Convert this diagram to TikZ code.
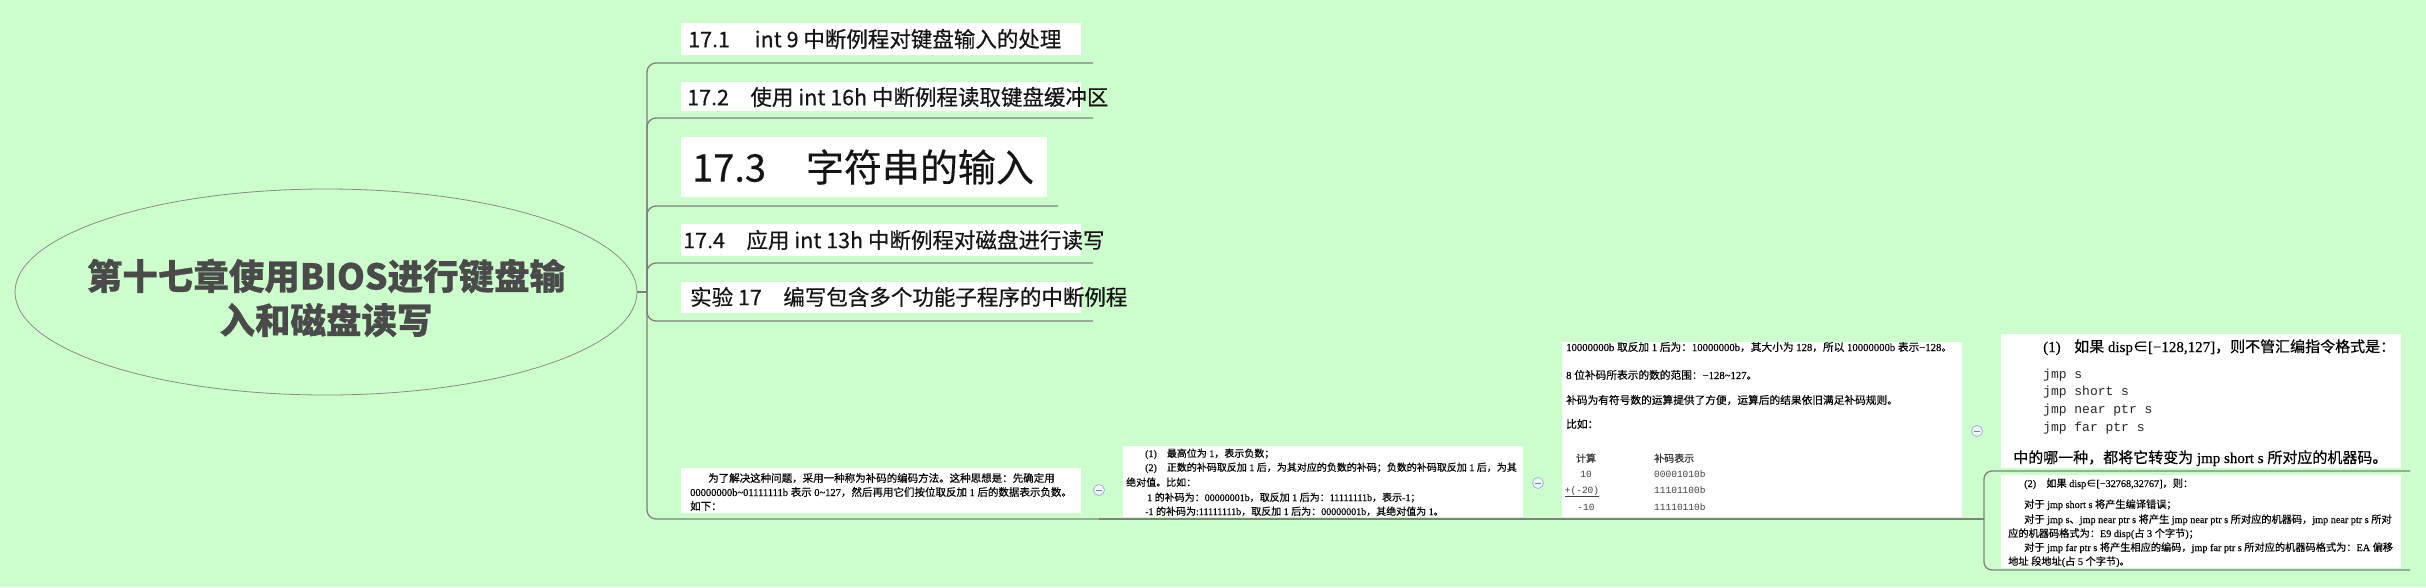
\documentclass[tikz,border=0pt]{standalone}
\usetikzlibrary{shapes.geometric}
\usepackage{fontspec}
\setmainfont{Liberation Serif}
\setmonofont{Liberation Mono}
\newfontfamily\cjkf{Noto Sans CJK SC}
\newfontfamily\cjkm{Noto Sans CJK SC}[FakeBold=0.35]
\newfontfamily\cjkt{Noto Sans CJK SC}[BoldFeatures={FakeBold=0.7}]
\newfontfamily\cjks{Noto Sans CJK SC}[FakeBold=0.4]
\newfontfamily\serifb{Liberation Serif}[FakeBold=0.35]
\newXeTeXintercharclass\CJKcls
\newcount\cjkcnt
\newcommand\setcjkrange[2]{\cjkcnt=#1\relax\loop\XeTeXcharclass\cjkcnt=\CJKcls\relax\ifnum\cjkcnt<#2\relax\advance\cjkcnt by 1\relax\repeat}
\setcjkrange{"4E00}{"9FFF}
\setcjkrange{"3000}{"303F}
\setcjkrange{"FF00}{"FFEF}
\XeTeXcharclass"2208=\CJKcls\relax
\XeTeXinterchartoks 0 \CJKcls = {\cjks}
\XeTeXinterchartoks 4095 \CJKcls = {\cjks}
\XeTeXinterchartoks \CJKcls 0 = {\serifb}
\XeTeXinterchartoks \CJKcls 4095 = {\serifb}
\newcommand\serifon{\XeTeXinterchartokenstate=1\relax\serifb}
\newcommand\tld{\textasciitilde}
\definecolor{bgc}{HTML}{CCFFCC}
\definecolor{linec}{HTML}{7F7F7F}
\definecolor{ellc}{HTML}{8A8A8A}
\definecolor{titlec}{HTML}{4A4A4A}
\definecolor{btnc}{HTML}{9DB3DD}
\definecolor{btnf}{HTML}{F2F6FC}
\definecolor{btnm}{HTML}{6A86BF}
\tikzset{
  conn/.style={draw=linec, line width=1.3pt, rounded corners=9pt},
  wbox/.style={fill=white, draw=none, inner sep=0pt, anchor=north west, minimum width=400pt},
  ttext/.style={anchor=west, inner sep=0pt, text=black!92, font=\cjkm\fontsize{21.5}{24}\selectfont},
  sline/.style={anchor=base west, inner sep=0pt, text=black},
  fsA/.style={font={\serifon\fontsize{10.5}{13}\selectfont}},
  fsB/.style={font={\serifon\fontsize{10}{12}\selectfont}},
  fsC/.style={font={\serifon\fontsize{10.7}{13}\selectfont}},
  fsD/.style={font={\serifon\fontsize{15}{18}\selectfont}},
  fsE/.style={font={\serifon\fontsize{10.2}{12}\selectfont}},
  monoA/.style={anchor=base west, inner sep=0pt, text=black!85, font={\ttfamily\fontsize{13}{15}\selectfont}},
  monoB/.style={anchor=base, inner sep=0pt, text=black!75, font={\ttfamily\fontsize{9.5}{11}\selectfont}},
  btn/.style={circle, draw=btnc, fill=btnf, line width=0.8pt, minimum size=11pt, inner sep=0pt,
    path picture={\draw[btnm, line width=1pt] ([xshift=-2.8pt]path picture bounding box.center) -- ([xshift=2.8pt]path picture bounding box.center);}},
}
\begin{document}
\begin{tikzpicture}[x=1pt,y=-1pt]
\useasboundingbox (0,0) rectangle (2426,587);
\fill[bgc] (0,0) rectangle (2426,587);

% root
\node[ellipse, draw=ellc, line width=0.8pt, minimum width=622pt, minimum height=206pt, inner sep=0pt] (root) at (326,292) {};
\node[font=\cjkt\bfseries\fontsize{35.5}{44}\selectfont, text=titlec, align=center, inner sep=0pt] (title) at (326,298) {第十七章使用BIOS进行键盘输\\入和磁盘读写};

% coordinates
\coordinate (trunk) at (647,292);
\coordinate (u1) at (1093,63);
\coordinate (u2) at (1093,118);
\coordinate (u3) at (1058,206);
\coordinate (u4) at (1093,263);
\coordinate (u5) at (1093,321);
\coordinate (j1) at (1099,519);
\coordinate (j2) at (1538,519);
\coordinate (fork) at (1984,519);
\coordinate (u9) at (2410,471);
\coordinate (u10) at (2410,570);

% connectors
\draw[linec, line width=1.3pt] (root.east) -- (trunk);
\draw[conn] (trunk) |- (u1);
\draw[conn] (trunk) |- (u2);
\draw[conn] (trunk) |- (u3);
\draw[conn] (trunk) |- (u4);
\draw[conn] (trunk) |- (u5);
\draw[conn] (trunk) |- (j1);
\draw[conn] (j1) -- (j2);
\draw[conn] (j2) -- (fork);
\draw[conn, rounded corners=8pt] (fork) |- (u9);
\draw[conn, rounded corners=8pt] (fork) |- (u10);

% topic boxes
\node[wbox, minimum height=32pt] (t1) at (681,23) {};
\node[ttext] (t1x) at (688,39) {17.1\hspace{1.15em}int 9 中断例程对键盘输入的处理};
\node[wbox, minimum height=29pt] (t2) at (681,82) {};
\node[ttext] (t2x) at (687,97) {17.2\hspace{1em}使用 int 16h 中断例程读取键盘缓冲区};
\node[wbox, minimum width=366pt, minimum height=60pt] (t3) at (681,137) {};
\node[ttext, font=\cjkm\fontsize{38}{42}\selectfont] (t3x) at (692,167) {17.3\hspace{1.05em}字符串的输入};
\node[wbox, minimum height=32pt] (t4) at (681,224) {};
\node[ttext] (t4x) at (683,240) {17.4\hspace{1em}应用 int 13h 中断例程对磁盘进行读写};
\node[wbox, minimum height=31pt] (t5) at (681,282) {};
\node[ttext] (t5x) at (690,297) {实验 17\hspace{1em}编写包含多个功能子程序的中断例程};

% box 6
\node[wbox, minimum height=45pt] (b6) at (681,468) {};
\node[sline, fsA] (l61) at (708,482) {为了解决这种问题，采用一种称为补码的编码方法。这种思想是：先确定用};
\node[sline, fsA] (l62) at (690,496) {00000000b\tld 01111111b 表示 0\tld 127，然后再用它们按位取反加 1 后的数据表示负数。};
\node[sline, fsA] (l63) at (690,510) {如下：};

% box 7
\node[wbox, minimum height=71pt] (b7) at (1123,446) {};
\node[sline, fsB] (l71) at (1145,457) {(1)\hspace{1em}最高位为 1，表示负数；};
\node[sline, fsB] (l72) at (1145,471) {(2)\hspace{1em}正数的补码取反加 1 后，为其对应的负数的补码；负数的补码取反加 1 后，为其};
\node[sline, fsB] (l73) at (1126,486) {绝对值。比如：};
\node[sline, fsB] (l74) at (1147,501) {1 的补码为：00000001b，取反加 1 后为：11111111b，表示-1；};
\node[sline, fsB] (l75) at (1145,515) {-1 的补码为:11111111b，取反加 1 后为：00000001b，其绝对值为 1。};

% box 8
\node[wbox, minimum height=175pt] (b8) at (1562,342) {};
\node[sline, fsC] (l81) at (1566,351) {10000000b 取反加 1 后为：10000000b，其大小为 128，所以 10000000b 表示−128。};
\node[sline, fsC] (l82) at (1566,379) {8 位补码所表示的数的范围：−128\tld 127。};
\node[sline, fsC] (l83) at (1566,404) {补码为有符号数的运算提供了方便，运算后的结果依旧满足补码规则。};
\node[sline, fsC] (l84) at (1566,428) {比如：};
\node[sline, fsB, anchor=base, text=black!80] (th1) at (1586,462) {计算};
\node[sline, fsB, text=black!80] (th2) at (1654,462) {补码表示};
\node[monoB] (r11) at (1586,477) {10};
\node[monoB, anchor=base west] (r12) at (1654,477) {00001010b};
\node[monoB] (r21) at (1582,493) {\underline{+(-20)}};
\node[monoB, anchor=base west] (r22) at (1654,493) {11101100b};
\node[monoB] (r31) at (1586,510) {-10};
\node[monoB, anchor=base west] (r32) at (1654,510) {11110110b};

% box 9
\node[wbox, minimum height=134pt] (b9) at (2001,334) {};
\node[sline, fsD] (l91) at (2043,352) {(1)\hspace{0.9em}如果 disp∈[−128,127]，则不管汇编指令格式是：};
\node[monoA] (m91) at (2043,378.5) {jmp s};
\node[monoA] (m92) at (2043,395.5) {jmp short s};
\node[monoA] (m93) at (2043,413.5) {jmp near ptr s};
\node[monoA] (m94) at (2043,431.5) {jmp far ptr s};
\node[sline, fsD] (l92) at (2013,463) {中的哪一种，都将它转变为 jmp short s 所对应的机器码。};

% box 10
\node[wbox, minimum height=93pt] (b10) at (2001,475) {};
\node[sline, fsE] (la1) at (2024,487) {(2)\hspace{1em}如果 disp∈[−32768,32767]，则：};
\node[sline, fsE] (la2) at (2024,508) {对于 jmp short s 将产生编译错误；};
\node[sline, fsE] (la3) at (2024,523) {对于 jmp s、jmp near ptr s 将产生 jmp near ptr s 所对应的机器码，jmp near ptr s 所对};
\node[sline, fsE] (la4) at (2008,537) {应的机器码格式为：E9 disp(占 3 个字节)；};
\node[sline, fsE] (la5) at (2024,551) {对于 jmp far ptr s 将产生相应的编码，jmp far ptr s 所对应的机器码格式为：EA 偏移};
\node[sline, fsE] (la6) at (2008,565) {地址 段地址(占 5 个字节)。};

% collapse buttons
\node[btn] (c1) at (1099,490) {};
\node[btn] (c2) at (1538,483) {};
\node[btn] (c3) at (1977,431) {};
\end{tikzpicture}
\end{document}
